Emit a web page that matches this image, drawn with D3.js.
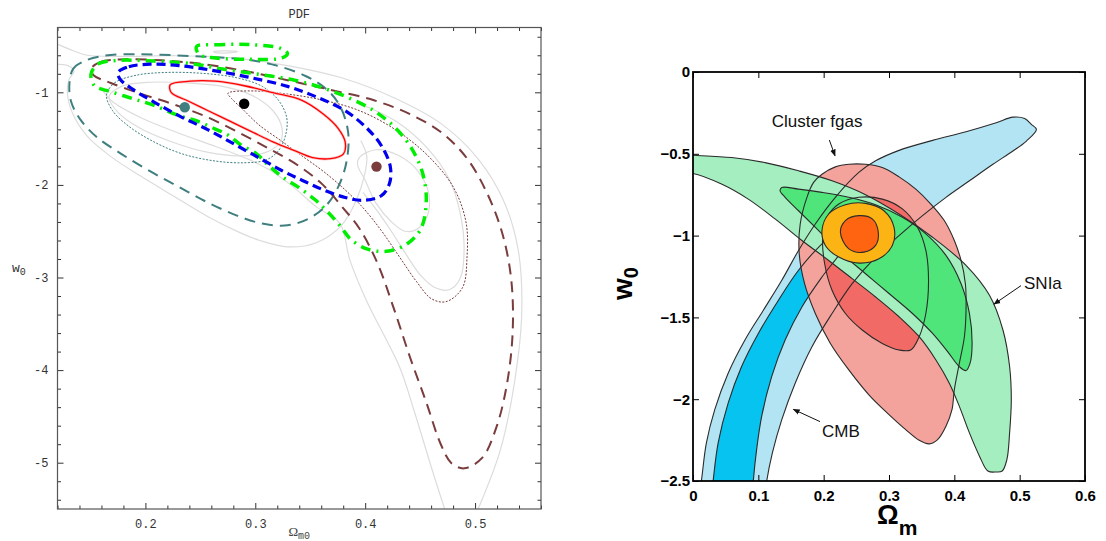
<!DOCTYPE html>
<html>
<head>
<meta charset="utf-8">
<script src="https://cdn.jsdelivr.net/npm/d3@7"></script>
<style>
  body { margin: 0; background: #fff; }
  svg { display: block; }
</style>
</head>
<body>
<svg width="1106" height="541"></svg>
<script>
// ---------- left panel : PDF contours, [Omega_m0, w0] ----------
const omTicksL = [0.2, 0.3, 0.4, 0.5];
const wTicksL = [-1, -2, -3, -4, -5];

const redSolid = [[0.2226,-0.918],[0.2407,-0.880],[0.2637,-0.880],[0.2899,-0.929],[0.3161,-1.004],[0.3424,-1.086],
  [0.3621,-1.236],[0.3752,-1.386],[0.3818,-1.536],[0.3801,-1.667],[0.3686,-1.716],[0.3522,-1.705],[0.3358,-1.630],
  [0.3161,-1.536],[0.2965,-1.424],[0.2768,-1.311],[0.2571,-1.199],[0.2374,-1.086],[0.2236,-1.004]];

const blueDash = [[0.1751,-0.786],[0.1849,-0.723],[0.2046,-0.696],[0.2308,-0.711],[0.2636,-0.768],[0.2965,-0.843],
  [0.3293,-0.936],[0.3555,-1.049],[0.3818,-1.199],[0.4014,-1.386],[0.4146,-1.574],[0.4228,-1.799],[0.4221,-1.986],
  [0.4146,-2.117],[0.3982,-2.166],[0.3818,-2.136],[0.3621,-2.054],[0.3424,-1.949],[0.3227,-1.836],[0.3030,-1.705],
  [0.2801,-1.555],[0.2571,-1.405],[0.2308,-1.255],[0.2079,-1.105],[0.1882,-0.966],[0.1767,-0.854]];

const greenDashDot = [[0.1505,-0.805],[0.1570,-0.693],[0.1751,-0.655],[0.2079,-0.663],[0.2440,-0.693],[0.2702,-0.749],
  [0.3030,-0.805],[0.3358,-0.869],[0.3621,-0.955],[0.3850,-1.060],[0.4080,-1.199],[0.4277,-1.386],[0.4425,-1.611],
  [0.4523,-1.874],[0.4556,-2.174],[0.4507,-2.474],[0.4375,-2.642],[0.4195,-2.717],[0.4014,-2.691],[0.3867,-2.586],
  [0.3768,-2.436],[0.3654,-2.286],[0.3539,-2.155],[0.3391,-2.024],[0.3243,-1.911],[0.3112,-1.780],[0.3014,-1.667],
  [0.2866,-1.566],[0.2751,-1.461],[0.2604,-1.379],[0.2456,-1.304],[0.2292,-1.247],[0.2079,-1.142],[0.1882,-1.067],
  [0.1685,-0.993],[0.1537,-0.929]];

const greenIsland = [[0.2466,-0.505],[0.2636,-0.486],[0.2965,-0.486],[0.3227,-0.524],[0.3293,-0.580],[0.3243,-0.629],
  [0.2965,-0.644],[0.2636,-0.629],[0.2489,-0.591]];

const tealDash = [[0.1308,-0.918],[0.1341,-0.749],[0.1439,-0.666],[0.1619,-0.606],[0.1915,-0.588],[0.2243,-0.599],
  [0.2571,-0.618],[0.2899,-0.644],[0.3194,-0.711],[0.3457,-0.824],[0.3637,-0.955],[0.3768,-1.142],[0.3844,-1.424],
  [0.3834,-1.724],[0.3768,-1.986],[0.3654,-2.211],[0.3490,-2.361],[0.3293,-2.436],[0.3063,-2.417],[0.2833,-2.331],
  [0.2571,-2.192],[0.2308,-2.024],[0.2046,-1.855],[0.1783,-1.667],[0.1554,-1.480],[0.1407,-1.292],[0.1325,-1.105]];

const tealDot = [[0.1646,-1.030],[0.1718,-0.899],[0.1915,-0.816],[0.2177,-0.786],[0.2505,-0.794],[0.2833,-0.843],
  [0.3063,-0.936],[0.3211,-1.086],[0.3286,-1.274],[0.3276,-1.461],[0.3211,-1.630],[0.3096,-1.731],[0.2899,-1.761],
  [0.2636,-1.742],[0.2341,-1.667],[0.2079,-1.536],[0.1849,-1.367],[0.1702,-1.199]];

const brownDash = [[0.1505,-0.749],[0.1587,-0.674],[0.1816,-0.644],[0.2144,-0.655],[0.2505,-0.693],[0.2899,-0.768],
  [0.3293,-0.869],[0.3686,-0.974],[0.4080,-1.086],[0.4408,-1.236],[0.4703,-1.442],[0.4933,-1.724],[0.5113,-2.099],
  [0.5245,-2.511],[0.5327,-2.999],[0.5343,-3.561],[0.5294,-4.123],[0.5196,-4.611],[0.5064,-4.948],[0.4900,-5.061],
  [0.4785,-5.005],[0.4687,-4.798],[0.4556,-4.348],[0.4408,-3.861],[0.4261,-3.336],[0.4113,-2.849],[0.3949,-2.474],
  [0.3785,-2.230],[0.3604,-1.986],[0.3391,-1.791],[0.3129,-1.611],[0.2833,-1.424],[0.2538,-1.255],[0.2243,-1.124],
  [0.1948,-1.011],[0.1685,-0.899],[0.1528,-0.816]];

const brownDot = [[0.2751,-1.011],[0.2965,-0.985],[0.3293,-1.019],[0.3621,-1.086],[0.3949,-1.199],[0.4277,-1.405],
  [0.4572,-1.686],[0.4802,-2.024],[0.4917,-2.399],[0.4927,-2.774],[0.4885,-3.111],[0.4736,-3.261],[0.4605,-3.231],
  [0.4474,-3.055],[0.4310,-2.774],[0.4146,-2.492],[0.3982,-2.249],[0.3818,-2.054],[0.3621,-1.855],[0.3424,-1.686],
  [0.3227,-1.517],[0.3030,-1.349],[0.2883,-1.180],[0.2784,-1.067]];

// faint grey contours
const grey1 = [[0.118,-0.470],[0.135,-0.554],[0.147,-0.600],[0.1775,-0.612],[0.2308,-0.605],[0.2800,-0.629],
  [0.3293,-0.711],[0.3785,-0.843],[0.4277,-1.067],[0.4703,-1.349],[0.5031,-1.724],[0.5261,-2.174],[0.5392,-2.699],
  [0.5425,-3.373],[0.5360,-4.123],[0.5228,-4.873],[0.5064,-5.398],[0.4990,-5.600]];
const grey2 = [[0.4750,-5.600],[0.4605,-5.060],[0.4441,-4.423],[0.4314,-3.970],[0.4010,-3.246],[0.3860,-2.810],
  [0.3770,-2.417],[0.3556,-2.237],[0.3344,-2.021],[0.3132,-1.840],[0.2950,-1.730],[0.2650,-1.590],[0.2300,-1.440],
  [0.1950,-1.270],[0.1700,-1.100],[0.1600,-0.960]];
const grey3 = [[0.118,-0.698],[0.129,-0.709],[0.135,-0.770],[0.1305,-0.860],[0.129,-1.005],[0.1335,-1.221],
  [0.147,-1.473],[0.168,-1.689],[0.1956,-1.905],[0.2259,-2.122],[0.2562,-2.338],[0.2865,-2.518],[0.3040,-2.600],
  [0.3293,-2.669],[0.3555,-2.624],[0.3785,-2.436],[0.3916,-2.174],[0.3998,-1.874],[0.4014,-1.686],[0.3960,-1.520]];
const grey4 = [[0.1669,-1.049],[0.1783,-0.936],[0.2046,-0.891],[0.2374,-0.899],[0.2702,-0.936],[0.2965,-1.030],
  [0.3161,-1.199],[0.3243,-1.386],[0.3227,-1.536],[0.3096,-1.649],[0.2866,-1.686],[0.2571,-1.649],[0.2243,-1.536],
  [0.1948,-1.386],[0.1751,-1.217]];
const grey5 = [[0.395,-1.70],[0.410,-1.62],[0.430,-1.68],[0.448,-1.85],[0.458,-2.10],[0.456,-2.35],[0.447,-2.48],
  [0.436,-2.50],[0.424,-2.40],[0.410,-2.20],[0.400,-1.95],[0.393,-1.78]];
const grey6 = [[0.3949,-1.124],[0.4277,-1.311],[0.4572,-1.611],[0.4769,-1.949],[0.4868,-2.324],[0.4900,-2.699],
  [0.4868,-2.999],[0.4769,-3.130],[0.4638,-3.111],[0.4507,-2.980],[0.4375,-2.755],[0.4244,-2.511],[0.4113,-2.286],
  [0.3980,-2.080]];
const grey7 = [[0.262,-0.560],[0.272,-0.552],[0.284,-0.560],[0.276,-0.574],[0.264,-0.572]];

const bestFits = [
  {om: 0.2358, w: -1.161, color: "#3f7f80"},
  {om: 0.2899, w: -1.124, color: "#000000"},
  {om: 0.4103, w: -1.802, color: "#7a3c3c"}
];

// ---------- right panel : filled confidence regions, [Omega_m, w0] ----------
const omTicksR = [0, 0.1, 0.2, 0.3, 0.4, 0.5, 0.6];
const wTicksR = [0, -0.5, -1, -1.5, -2, -2.5];

const cmbOuter = [[0.007,-2.65],[0.0128,-2.5],[0.0205,-2.267],[0.0333,-2.064],[0.0538,-1.841],[0.0795,-1.638],
  [0.1077,-1.456],[0.1359,-1.273],[0.1615,-1.091],[0.1872,-0.929],[0.2179,-0.766],[0.2538,-0.614],[0.2795,-0.543],
  [0.3154,-0.479],[0.3667,-0.418],[0.4179,-0.365],[0.4641,-0.310],[0.4897,-0.276],[0.5077,-0.284],[0.5179,-0.320],
  [0.5256,-0.351],[0.5103,-0.422],[0.4897,-0.483],[0.4590,-0.564],[0.4231,-0.665],[0.3872,-0.766],[0.3513,-0.878],
  [0.3154,-1.000],[0.2795,-1.131],[0.2436,-1.294],[0.2128,-1.476],[0.1821,-1.679],[0.1564,-1.902],[0.1359,-2.125],
  [0.1215,-2.328],[0.1128,-2.5],[0.108,-2.65]];
const cmbInner = [[0.027,-2.65],[0.0308,-2.5],[0.0385,-2.267],[0.0538,-2.024],[0.0744,-1.800],[0.1000,-1.598],
  [0.1308,-1.395],[0.1615,-1.212],[0.1974,-1.050],[0.2333,-0.929],[0.2487,-0.929],[0.2282,-1.091],[0.1974,-1.253],
  [0.1667,-1.436],[0.1410,-1.638],[0.1205,-1.861],[0.1051,-2.105],[0.0974,-2.307],[0.0923,-2.5],[0.090,-2.65]];

const clusterOuter = [[0.1974,-0.625],[0.2179,-0.580],[0.2385,-0.564],[0.2641,-0.564],[0.2897,-0.584],[0.3154,-0.641],
  [0.3410,-0.716],[0.3641,-0.807],[0.3846,-0.908],[0.4000,-1.030],[0.4103,-1.152],[0.4169,-1.294],[0.4179,-1.456],
  [0.4154,-1.618],[0.4077,-1.780],[0.4000,-1.942],[0.3964,-2.064],[0.3872,-2.165],[0.3744,-2.247],[0.3615,-2.273],
  [0.3462,-2.251],[0.3256,-2.186],[0.3000,-2.094],[0.2692,-1.973],[0.2385,-1.821],[0.2103,-1.659],[0.1872,-1.476],
  [0.1708,-1.294],[0.1626,-1.111],[0.1641,-0.929],[0.1744,-0.766],[0.1846,-0.675]];
const clusterInner = [[0.1985,-1.010],[0.2051,-0.888],[0.2231,-0.807],[0.2538,-0.766],[0.2897,-0.777],[0.3205,-0.837],
  [0.3436,-0.949],[0.3564,-1.091],[0.3605,-1.273],[0.3564,-1.476],[0.3462,-1.618],[0.3333,-1.699],[0.3154,-1.699],
  [0.2897,-1.659],[0.2590,-1.577],[0.2333,-1.476],[0.2128,-1.334],[0.2015,-1.172]];

const snOuter = [[-0.02,-0.505],[0,-0.509],[0.0590,-0.523],[0.1103,-0.554],[0.1615,-0.604],[0.2128,-0.665],
  [0.2641,-0.750],[0.3154,-0.868],[0.3667,-1.010],[0.4179,-1.182],[0.4538,-1.365],[0.4744,-1.577],[0.4846,-1.800],
  [0.4872,-2.003],[0.4846,-2.206],[0.4805,-2.368],[0.4733,-2.439],[0.4641,-2.445],[0.4513,-2.439],[0.4385,-2.348],
  [0.4231,-2.206],[0.4077,-2.044],[0.3923,-1.902],[0.3718,-1.760],[0.3462,-1.618],[0.3154,-1.496],[0.2795,-1.375],
  [0.2436,-1.263],[0.2077,-1.152],[0.1667,-1.030],[0.1256,-0.898],[0.0846,-0.777],[0.0436,-0.685],[0,-0.620],
  [-0.02,-0.622]];
const snInner = [[0.1359,-0.706],[0.1615,-0.716],[0.1974,-0.736],[0.2385,-0.766],[0.2795,-0.811],[0.3205,-0.888],
  [0.3564,-0.989],[0.3872,-1.121],[0.4103,-1.294],[0.4231,-1.476],[0.4272,-1.659],[0.4241,-1.780],[0.4179,-1.825],
  [0.4077,-1.801],[0.3897,-1.709],[0.3667,-1.598],[0.3359,-1.476],[0.3000,-1.354],[0.2641,-1.233],[0.2282,-1.111],
  [0.1923,-0.969],[0.1615,-0.848],[0.1410,-0.766],[0.1333,-0.726]];

const combOuter = [[0.1974,-0.970],[0.2077,-0.868],[0.2333,-0.811],[0.2641,-0.803],[0.2923,-0.848],[0.3077,-0.949],
  [0.3051,-1.060],[0.2846,-1.142],[0.2538,-1.168],[0.2231,-1.131],[0.2026,-1.060]];
const combInner = [[0.2256,-0.979],[0.2333,-0.908],[0.2538,-0.878],[0.2744,-0.898],[0.2836,-0.979],[0.2795,-1.060],
  [0.2615,-1.101],[0.2385,-1.081]];

// labels with arrows: text anchor point and arrow from -> to, in data units
const notes = [
  {text: "Cluster fgas", at: [0.190, -0.336], anchor: "middle", from: [0.2087, -0.416], to: [0.2174, -0.512]},
  {text: "SNIa", at: [0.5067, -1.326], anchor: "start", from: [0.502, -1.306], to: [0.4607, -1.419]},
  {text: "CMB", at: [0.1975, -2.231], anchor: "start", from: [0.1944, -2.137], to: [0.1536, -2.062]}
];

const svg = d3.select("svg");

// ================= LEFT =================
const xL = d3.scaleLinear().domain([0.12, 0.56]).range([57.5, 541]);
const yL = d3.scaleLinear().domain([-5.5, -0.3]).range([509, 27.5]);

const defs = svg.append("defs");
defs.append("clipPath").attr("id", "clipL").append("rect")
  .attr("x", xL(0.12)).attr("y", yL(-0.3))
  .attr("width", xL(0.56) - xL(0.12)).attr("height", yL(-5.5) - yL(-0.3));

const closedL = d3.line().x(d => xL(d[0])).y(d => yL(d[1])).curve(d3.curveCatmullRomClosed.alpha(0.5));
const openL = d3.line().x(d => xL(d[0])).y(d => yL(d[1])).curve(d3.curveCatmullRom.alpha(0.5));

const left = svg.append("g");
const plotL = left.append("g").attr("clip-path", "url(#clipL)");

const layersL = [
  {d: grey1, closed: false, stroke: "#dcdcdc", w: 1.2},
  {d: grey2, closed: false, stroke: "#dcdcdc", w: 1.2},
  {d: grey3, closed: false, stroke: "#dcdcdc", w: 1.2},
  {d: grey4, closed: true, stroke: "#dcdcdc", w: 1.2},
  {d: grey5, closed: true, stroke: "#dcdcdc", w: 1.2},
  {d: grey6, closed: false, stroke: "#dcdcdc", w: 1.2},
  {d: grey7, closed: true, stroke: "#dcdcdc", w: 1.2},
  {d: tealDash, closed: true, stroke: "#3f7f80", w: 2, dash: "11,7"},
  {d: tealDot, closed: true, stroke: "#3f7f80", w: 1, dash: "2,1.5"},
  {d: brownDash, closed: true, stroke: "#7a3c3c", w: 2, dash: "11,7"},
  {d: brownDot, closed: true, stroke: "#7a3c3c", w: 1, dash: "2,1.5"},
  {d: greenDashDot, closed: true, stroke: "#00ee00", w: 3.5, dash: "10,6,2,6"},
  {d: greenIsland, closed: true, stroke: "#00ee00", w: 3.5, dash: "10,6,2,6"},
  {d: blueDash, closed: true, stroke: "#0000ee", w: 3.2, dash: "9,5"},
  {d: redSolid, closed: true, stroke: "#f8c8c8", w: 2.8},
  {d: redSolid, closed: true, stroke: "#ff0000", w: 1.3}
];

plotL.selectAll("path.c").data(layersL).join("path")
  .attr("class", "c")
  .attr("d", l => (l.closed ? closedL : openL)(l.d))
  .attr("fill", "none")
  .attr("stroke", l => l.stroke)
  .attr("stroke-width", l => l.w)
  .attr("stroke-dasharray", l => l.dash || null);

plotL.selectAll("circle").data(bestFits).join("circle")
  .attr("cx", d => xL(d.om)).attr("cy", d => yL(d.w)).attr("r", 5.2)
  .attr("fill", d => d.color);

// frame + ticks (inward on all sides)
const minorX = xL.ticks(22).filter(v => !omTicksL.some(t => Math.abs(t - v) < 1e-9));
const minorY = yL.ticks(26).filter(v => !wTicksL.some(t => Math.abs(t - v) < 1e-9));
const monoFont = "'Liberation Mono', 'DejaVu Sans Mono', monospace";

function styleAxis(g, font, size, weight, color) {
  g.select(".domain").remove();
  g.selectAll("line").attr("stroke", color);
  g.selectAll("text").attr("font-family", font).attr("font-size", size)
    .attr("font-weight", weight).attr("fill", color);
}

left.append("g").attr("transform", `translate(0,${yL(-5.5)})`)
  .call(d3.axisBottom(xL).tickValues(omTicksL).tickSize(-6).tickPadding(10).tickFormat(d3.format(".1f")))
  .call(g => styleAxis(g, monoFont, 12, "normal", "#333"));
left.append("g").attr("transform", `translate(0,${yL(-5.5)})`)
  .call(d3.axisBottom(xL).tickValues(minorX).tickSize(-3.5).tickFormat(""))
  .call(g => styleAxis(g, monoFont, 12, "normal", "#333"));
left.append("g").attr("transform", `translate(0,${yL(-0.3)})`)
  .call(d3.axisTop(xL).tickValues(omTicksL).tickSize(-6).tickFormat(""))
  .call(g => styleAxis(g, monoFont, 12, "normal", "#333"));
left.append("g").attr("transform", `translate(0,${yL(-0.3)})`)
  .call(d3.axisTop(xL).tickValues(minorX).tickSize(-3.5).tickFormat(""))
  .call(g => styleAxis(g, monoFont, 12, "normal", "#333"));
left.append("g").attr("transform", `translate(${xL(0.12)},0)`)
  .call(d3.axisLeft(yL).tickValues(wTicksL).tickSize(-6).tickPadding(9).tickFormat(d => String(d)))
  .call(g => styleAxis(g, monoFont, 12, "normal", "#333"));
left.append("g").attr("transform", `translate(${xL(0.12)},0)`)
  .call(d3.axisLeft(yL).tickValues(minorY).tickSize(-3.5).tickFormat(""))
  .call(g => styleAxis(g, monoFont, 12, "normal", "#333"));
left.append("g").attr("transform", `translate(${xL(0.56)},0)`)
  .call(d3.axisRight(yL).tickValues(wTicksL).tickSize(-6).tickFormat(""))
  .call(g => styleAxis(g, monoFont, 12, "normal", "#333"));
left.append("g").attr("transform", `translate(${xL(0.56)},0)`)
  .call(d3.axisRight(yL).tickValues(minorY).tickSize(-3.5).tickFormat(""))
  .call(g => styleAxis(g, monoFont, 12, "normal", "#333"));

left.append("rect")
  .attr("x", xL(0.12)).attr("y", yL(-0.3))
  .attr("width", xL(0.56) - xL(0.12)).attr("height", yL(-5.5) - yL(-0.3))
  .attr("fill", "none").attr("stroke", "#555").attr("stroke-width", 1.2);

const midL = (xL(0.12) + xL(0.56)) / 2;
left.append("text").attr("x", midL).attr("y", 18).attr("text-anchor", "middle")
  .attr("font-family", monoFont).attr("font-size", 12).attr("fill", "#333").text("PDF");

const xlab = left.append("text").attr("x", midL).attr("y", 536).attr("text-anchor", "middle")
  .attr("font-family", "'Liberation Serif', serif").attr("font-size", 13).attr("fill", "#444");
xlab.append("tspan").text("Ω");
xlab.append("tspan").attr("font-size", 10).attr("dy", 3).attr("font-family", monoFont).text("m0");

const ylab = left.append("text").attr("x", 12).attr("y", yL(-2.9) + 4)
  .attr("font-family", monoFont).attr("font-size", 13).attr("fill", "#333");
ylab.append("tspan").text("w");
ylab.append("tspan").attr("font-size", 10).attr("dy", 3).text("0");

// ================= RIGHT =================
const xR = d3.scaleLinear().domain([0, 0.6]).range([693, 1085]);
const yR = d3.scaleLinear().domain([-2.5, 0]).range([481, 72]);

defs.append("clipPath").attr("id", "clipR").append("rect")
  .attr("x", xR(0)).attr("y", yR(0))
  .attr("width", xR(0.6) - xR(0)).attr("height", yR(-2.5) - yR(0));

const closedR = d3.line().x(d => xR(d[0])).y(d => yR(d[1])).curve(d3.curveCatmullRomClosed.alpha(0.5));

const right = svg.append("g");
const plotR = right.append("g").attr("clip-path", "url(#clipR)");

// CMB, cluster and SN regions: fills, then all their edges so lines show through
const regions = [
  {d: cmbOuter, fill: "#b2e4f4"},
  {d: cmbInner, fill: "#06c3ef"},
  {d: clusterOuter, fill: "#f4a29c"},
  {d: clusterInner, fill: "#f16a66"},
  {d: snOuter, fill: "#a4eec0"},
  {d: snInner, fill: "#4fe57a"}
];
// combined constraint sits on top, opaque
const combined = [
  {d: combOuter, fill: "#fbb414"},
  {d: combInner, fill: "#ff6410"}
];

plotR.selectAll("path.fill").data(regions).join("path")
  .attr("class", "fill")
  .attr("d", r => closedR(r.d))
  .attr("fill", r => r.fill);

plotR.selectAll("path.edge").data(regions).join("path")
  .attr("class", "edge")
  .attr("d", r => closedR(r.d))
  .attr("fill", "none").attr("stroke", "#2b2b2b").attr("stroke-width", 1.1);

plotR.selectAll("path.comb").data(combined).join("path")
  .attr("class", "comb")
  .attr("d", r => closedR(r.d))
  .attr("fill", r => r.fill)
  .attr("stroke", "#2b2b2b").attr("stroke-width", 1.1);

const sansFont = "'Liberation Sans', Arial, Helvetica, sans-serif";
const fmtR = d3.format("");

right.append("g").attr("transform", `translate(0,${yR(-2.5)})`)
  .call(d3.axisBottom(xR).tickValues(omTicksR).tickSize(-6).tickPadding(9).tickFormat(fmtR))
  .call(g => styleAxis(g, sansFont, 15, "bold", "#000"));
right.append("g").attr("transform", `translate(0,${yR(0)})`)
  .call(d3.axisTop(xR).tickValues(omTicksR).tickSize(-6).tickFormat(""))
  .call(g => styleAxis(g, sansFont, 15, "bold", "#000"));
right.append("g").attr("transform", `translate(${xR(0)},0)`)
  .call(d3.axisLeft(yR).tickValues(wTicksR).tickSize(-6).tickPadding(3).tickFormat(fmtR))
  .call(g => styleAxis(g, sansFont, 15, "bold", "#000"));
right.append("g").attr("transform", `translate(${xR(0.6)},0)`)
  .call(d3.axisRight(yR).tickValues(wTicksR).tickSize(-6).tickFormat(""))
  .call(g => styleAxis(g, sansFont, 15, "bold", "#000"));

right.append("rect")
  .attr("x", xR(0)).attr("y", yR(0))
  .attr("width", xR(0.6) - xR(0)).attr("height", yR(-2.5) - yR(0))
  .attr("fill", "none").attr("stroke", "#000").attr("stroke-width", 1.8);

// axis titles
const xtR = right.append("text").attr("x", 877).attr("y", 524)
  .attr("font-family", sansFont).attr("font-weight", "bold").attr("fill", "#000");
xtR.append("tspan").attr("font-size", 27).text("Ω");
xtR.append("tspan").attr("font-size", 21).attr("dy", 11).text("m");

const ytR = right.append("text").attr("transform", "translate(632,300) rotate(-90)")
  .attr("font-family", sansFont).attr("font-weight", "bold").attr("fill", "#000");
ytR.append("tspan").attr("font-size", 28).text("w");
ytR.append("tspan").attr("font-size", 20).attr("dy", 6).text("0");

// annotations
defs.append("marker").attr("id", "arrow").attr("viewBox", "0 0 10 10")
  .attr("refX", 9).attr("refY", 5).attr("markerWidth", 7).attr("markerHeight", 7)
  .attr("orient", "auto")
  .append("path").attr("d", "M0,1 L10,5 L0,9 Z").attr("fill", "#111");

right.selectAll("text.note").data(notes).join("text")
  .attr("class", "note")
  .attr("x", d => xR(d.at[0])).attr("y", d => yR(d.at[1]))
  .attr("text-anchor", d => d.anchor)
  .attr("font-family", sansFont).attr("font-size", 17).attr("fill", "#111")
  .text(d => d.text);

right.selectAll("line.arrow").data(notes).join("line")
  .attr("class", "arrow")
  .attr("x1", d => xR(d.from[0])).attr("y1", d => yR(d.from[1]))
  .attr("x2", d => xR(d.to[0])).attr("y2", d => yR(d.to[1]))
  .attr("stroke", "#111").attr("stroke-width", 1)
  .attr("marker-end", "url(#arrow)");
</script>
</body>
</html>
